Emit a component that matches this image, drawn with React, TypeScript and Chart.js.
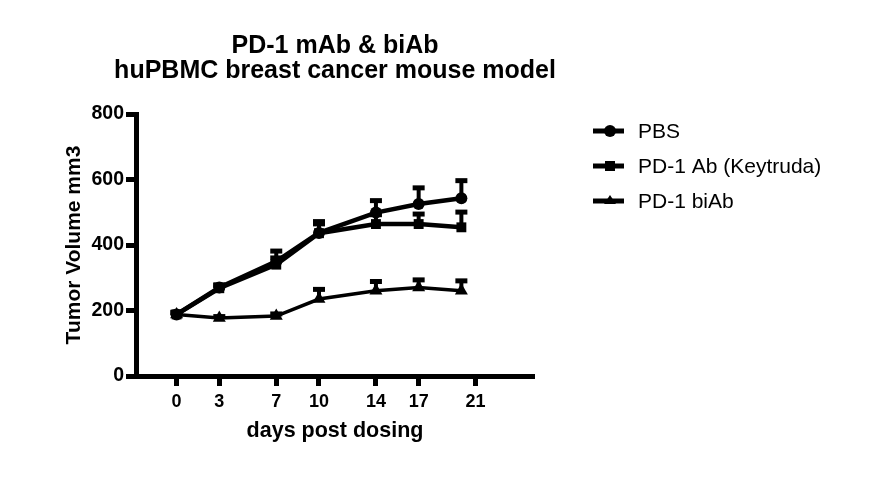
import React, { useEffect, useRef } from "react";
import { Chart, registerables } from "chart.js";

Chart.register(...registerables);

const titleLines = ["PD-1 mAb & biAb", "huPBMC breast cancer mouse model"];
const xTitle = "days post dosing";
const yTitle = "Tumor Volume mm3";
const days = [0, 3, 7, 10, 14, 17, 20];
const xTickDays = [0, 3, 7, 10, 14, 17, 21];
const yTickValues = [0, 200, 400, 600, 800];
const seriesNames = ["PBS", "PD-1 Ab (Keytruda)", "PD-1 biAb"];
const pbs = [188, 270, 350, 437, 499, 525, 543];
const pbsErr = [8, 10, 33, 36, 38, 51, 55];
const keytruda = [188, 268, 340, 436, 464, 464, 454];
const keytrudaErr = [8, 10, 22, 30, 30, 32, 48];
const biAb = [188, 177, 183, 235, 260, 270, 260];
const biAbErr = [6, 6, 8, 31, 30, 25, 32];

const FONT = "Arial, 'Liberation Sans', sans-serif";

const errorBarPlugin = {
  id: "errorBars",
  afterDatasetsDraw(chart: any) {
    const ctx = chart.ctx;
    const y = chart.scales.y;
    chart.data.datasets.forEach((ds: any, i: number) => {
      const meta = chart.getDatasetMeta(i);
      const errs = ds.errors || [];
      meta.data.forEach((pt: any, j: number) => {
        const v = ds.data[j].y;
        const top = y.getPixelForValue(v + errs[j]);
        ctx.save();
        ctx.strokeStyle = "#000";
        ctx.lineWidth = 4;
        ctx.beginPath();
        ctx.moveTo(pt.x, pt.y);
        ctx.lineTo(pt.x, top);
        ctx.stroke();
        ctx.lineWidth = 5;
        ctx.beginPath();
        ctx.moveTo(pt.x - 6, top + 0.5);
        ctx.lineTo(pt.x + 6, top + 0.5);
        ctx.stroke();
        ctx.restore();
      });
    });
  },
};

const decorPlugin = {
  id: "decor",
  afterDraw(chart: any) {
    const ctx = chart.ctx;
    const area = chart.chartArea;
    const cx = (area.left + area.right) / 2;
    ctx.save();
    ctx.fillStyle = "#000";
    ctx.textAlign = "center";
    ctx.textBaseline = "alphabetic";
    ctx.font = `bold 25px ${FONT}`;
    ctx.fillText(titleLines[0], cx, 53);
    ctx.fillText(titleLines[1], cx, 78);

    // legend
    const lx = 593;
    const rows = [131, 166, 201];
    chart.data.datasets.forEach((ds: any, i: number) => {
      const ry = rows[i];
      ctx.strokeStyle = "#000";
      ctx.lineWidth = 5;
      ctx.beginPath();
      ctx.moveTo(lx, ry);
      ctx.lineTo(lx + 31, ry);
      ctx.stroke();
      ctx.fillStyle = "#000";
      const mx = lx + 17;
      if (ds.pointStyle === "circle") {
        ctx.beginPath();
        ctx.arc(mx, ry, 6, 0, Math.PI * 2);
        ctx.fill();
      } else if (ds.pointStyle === "rect") {
        ctx.fillRect(mx - 5, ry - 5, 10, 10);
      } else {
        ctx.beginPath();
        ctx.moveTo(mx, ry - 6);
        ctx.lineTo(mx + 6, ry + 3);
        ctx.lineTo(mx - 6, ry + 3);
        ctx.closePath();
        ctx.fill();
      }
      ctx.font = `21px ${FONT}`;
      ctx.textAlign = "left";
      ctx.textBaseline = "middle";
      ctx.fillText(ds.label, lx + 45, ry + 1);
    });
    ctx.restore();
  },
};

export default function App() {
  const ref = useRef<HTMLCanvasElement>(null);
  useEffect(() => {
    const mk = (vals: number[]) => days.map((d, i) => ({ x: d, y: vals[i] }));
    const chart = new Chart(ref.current!, {
      type: "line",
      data: {
        datasets: [
          {
            label: seriesNames[0],
            data: mk(pbs),
            errors: pbsErr,
            borderColor: "#000",
            backgroundColor: "#000",
            borderWidth: 4.5,
            pointStyle: "circle",
            pointRadius: 6,
            pointBorderWidth: 0,
          } as any,
          {
            label: seriesNames[1],
            data: mk(keytruda),
            errors: keytrudaErr,
            borderColor: "#000",
            backgroundColor: "#000",
            borderWidth: 4.5,
            pointStyle: "rect",
            pointRadius: 7,
            pointBorderWidth: 0,
          } as any,
          {
            label: seriesNames[2],
            data: mk(biAb),
            errors: biAbErr,
            borderColor: "#000",
            backgroundColor: "#000",
            borderWidth: 3.5,
            pointStyle: "triangle",
            pointRadius: 7.5,
            pointBorderWidth: 0,
          } as any,
        ],
      },
      plugins: [errorBarPlugin, decorPlugin],
      options: {
        animation: false,
        responsive: false,
        devicePixelRatio: 1,
        layout: { padding: { top: 114, right: 872 - 534, left: 0, bottom: 0 } },
        plugins: { legend: { display: false }, title: { display: false }, tooltip: { enabled: false } },
        scales: {
          x: {
            type: "linear",
            min: -2.85,
            max: 25.1,
            afterFit: (s: any) => {
              s.height = 478 - 376;
            },
            afterBuildTicks: (s: any) => {
              s.ticks = xTickDays.map((v) => ({ value: v }));
            },
            grid: { drawOnChartArea: false, drawTicks: true, tickLength: 10, tickWidth: 5, tickColor: "#000" },
            border: { display: true, width: 5, color: "#000" },
            ticks: {
              color: "#000",
              font: { family: FONT, size: 18, weight: "bold" },
              padding: 5,
              maxRotation: 0,
              autoSkip: false,
            },
            title: {
              display: true,
              text: xTitle,
              color: "#000",
              font: { family: FONT, size: 21.5, weight: "bold" },
              padding: { top: 0, bottom: 34 },
            },
          },
          y: {
            type: "linear",
            min: 0,
            max: 800,
            afterFit: (s: any) => {
              s.width = 136;
            },
            afterBuildTicks: (s: any) => {
              s.ticks = yTickValues.map((v) => ({ value: v }));
            },
            grid: { drawOnChartArea: false, drawTicks: true, tickLength: 10, tickWidth: 5, tickColor: "#000" },
            border: { display: true, width: 5, color: "#000" },
            ticks: {
              color: "#000",
              font: { family: FONT, size: 19.5, weight: "bold" },
              padding: 2,
              autoSkip: false,
            },
            title: {
              display: true,
              text: yTitle,
              color: "#000",
              font: { family: FONT, size: 21, weight: "bold" },
              padding: { top: 62, bottom: 0 },
            },
          },
        },
      },
    } as any);
    return () => chart.destroy();
  }, []);
  return (
    <div style={{ position: "absolute", left: 0, top: 0, width: 872, height: 478, background: "#fff" }}>
      <canvas ref={ref} width={872} height={478} style={{ width: 872, height: 478, display: "block" }} />
    </div>
  );
}
